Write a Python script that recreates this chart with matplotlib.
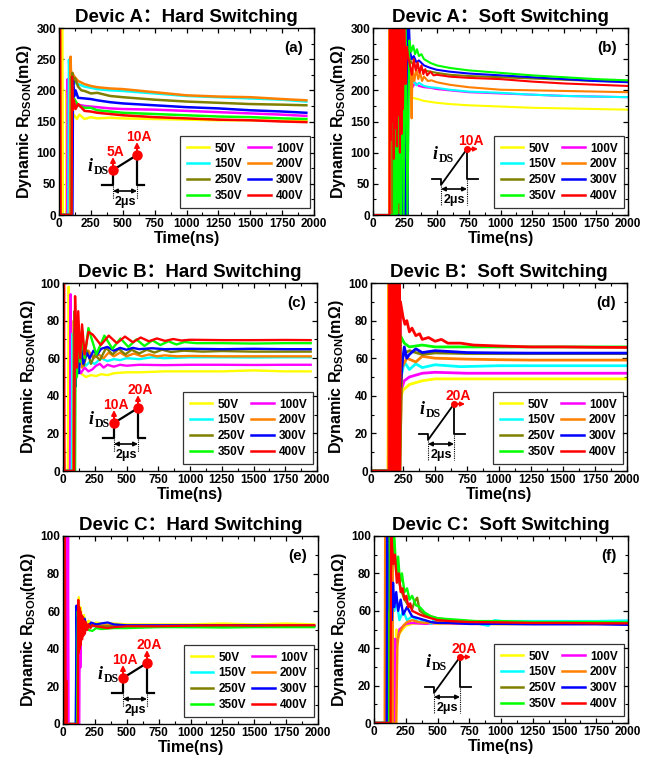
import matplotlib
matplotlib.use("Agg")
import matplotlib.pyplot as plt
from matplotlib.ticker import MultipleLocator

plt.rcParams['font.family'] = ['Liberation Sans', 'Noto Sans CJK SC', 'DejaVu Sans']
plt.rcParams['font.weight'] = 'bold'
plt.rcParams['axes.labelweight'] = 'bold'
plt.rcParams['mathtext.fontset'] = 'custom'
plt.rcParams['mathtext.rm'] = 'Liberation Sans:bold'
plt.rcParams['mathtext.bf'] = 'Liberation Sans:bold'

# ---------------- data ----------------
VOLTAGES = ['50V', '100V', '150V', '200V', '250V', '300V', '350V', '400V']
COLORS = ['#FFFF00', '#FF00FF', '#00FFFF', '#FF7F00', '#808000', '#0000FF', '#00FF00', '#FF0000']
TITLES = ['Devic A\uff1aHard Switching', 'Devic A\uff1aSoft Switching',
          'Devic B\uff1aHard Switching', 'Devic B\uff1aSoft Switching',
          'Devic C\uff1aHard Switching', 'Devic C\uff1aSoft Switching']
PANEL_LETTERS = ['(a)', '(b)', '(c)', '(d)', '(e)', '(f)']
X_TICKS = [0, 250, 500, 750, 1000, 1250, 1500, 1750, 2000]

# Device A, hard switching  (time ns, R mOhm)
A_HARD = {
    '50V': ([0, 12, 16, 26, 30, 56, 60, 64, 80, 100, 120, 140, 160, 200, 250, 300, 400, 500, 750, 1000, 1250, 1500, 1750, 1940],
            [0, 0, 330, 330, 0, 0, 200, 150, 165, 155, 160, 154, 161, 154, 157, 155, 156, 155, 154, 153, 152, 152, 151, 151]),
    '100V': ([0, 5, 64, 68, 72, 80, 100, 120, 150, 200, 250, 300, 400, 500, 750, 1000, 1250, 1500, 1750, 1940],
             [330, 0, 0, 218, 188, 182, 178, 180, 177, 175, 174, 173, 171, 170, 169, 167, 165, 163, 161, 159]),
    '150V': ([0, 5, 74, 78, 84, 100, 120, 150, 200, 250, 300, 400, 500, 750, 1000, 1250, 1500, 1750, 1940],
             [330, 0, 0, 249, 212, 220, 212, 210, 206, 204, 202, 200, 199, 195, 191, 189, 187, 185, 182]),
    '200V': ([0, 8, 12, 86, 91, 96, 105, 120, 150, 200, 250, 300, 400, 500, 750, 1000, 1250, 1500, 1750, 1940],
             [330, 330, 0, 0, 254, 212, 228, 222, 215, 210, 207, 205, 203, 202, 197, 192, 190, 189, 186, 184]),
    '250V': ([0, 6, 100, 105, 112, 125, 150, 175, 200, 250, 300, 400, 500, 750, 1000, 1250, 1500, 1750, 1940],
             [330, 0, 0, 228, 210, 220, 206, 200, 199, 195, 196, 191, 189, 185, 182, 180, 178, 177, 176]),
    '300V': ([0, 4, 105, 110, 118, 130, 150, 200, 250, 300, 400, 500, 750, 1000, 1250, 1500, 1750, 1940],
             [330, 0, 0, 215, 190, 200, 188, 187, 186, 184, 181, 179, 176, 173, 171, 168, 166, 164]),
    '350V': ([0, 5, 96, 100, 106, 120, 150, 200, 250, 300, 400, 500, 750, 1000, 1250, 1500, 1750, 1940],
             [330, 0, 0, 222, 178, 186, 176, 172, 172, 168, 166, 164, 162, 160, 158, 157, 155, 154]),
    '400V': ([0, 8, 12, 98, 102, 108, 115, 130, 150, 200, 250, 300, 400, 500, 750, 1000, 1250, 1500, 1750, 1940],
             [330, 330, 0, 0, 222, 168, 185, 170, 178, 167, 166, 164, 162, 160, 157, 155, 153, 152, 150, 149]),
}

# Device A, soft switching
A_SOFT = {
    '50V': ([0, 128, 131, 136, 140, 172, 175, 179, 183, 187, 250, 262, 275, 290, 310, 350, 400, 500, 600, 750, 1000, 1250, 1500, 1750, 2000],
            [0, 0, 330, 330, 0, 0, 330, 0, 330, 0, 0, 200, 192, 195, 188, 186, 183, 180, 178, 176, 174, 172, 171, 170, 169]),
    '100V': ([0, 140, 143, 150, 155, 180, 184, 190, 195, 200, 205, 212, 240, 270, 290, 310, 330, 360, 400, 450, 500, 600, 750, 1000, 1250, 1500, 1750, 2000],
             [0, 0, 330, 0, 200, 0, 330, 0, 150, 0, 330, 0, 0, 330, 215, 205, 212, 207, 205, 204, 202, 200, 197, 195, 193, 191, 190, 189]),
    '150V': ([0, 135, 138, 145, 150, 160, 165, 200, 205, 215, 220, 260, 268, 285, 300, 320, 340, 360, 400, 450, 500, 600, 750, 1000, 1250, 1500, 1750, 2000],
             [0, 0, 330, 0, 330, 0, 330, 330, 0, 330, 0, 0, 330, 220, 210, 215, 208, 212, 207, 205, 204, 201, 198, 196, 193, 191, 190, 189]),
    '200V': ([0, 126, 129, 134, 140, 146, 152, 158, 165, 172, 180, 190, 200, 210, 220, 230, 240, 250, 260, 270, 280, 290, 297, 303, 310, 325, 340, 355, 370, 385, 400, 430, 460, 500, 600, 750, 1000, 1250, 1500, 1750, 2000],
             [0, 0, 330, 0, 330, 0, 330, 100, 330, 0, 330, 0, 330, 0, 330, 60, 330, 90, 330, 240, 215, 250, 200, 155, 235, 215, 235, 218, 228, 215, 222, 215, 216, 213, 209, 205, 201, 200, 199, 198, 197]),
    '250V': ([0, 150, 153, 160, 167, 175, 182, 190, 197, 205, 240, 260, 280, 300, 330, 360, 400, 450, 500, 600, 750, 1000, 1250, 1500, 1750, 2000],
             [0, 0, 330, 0, 330, 0, 330, 0, 330, 0, 0, 330, 255, 245, 238, 235, 232, 230, 228, 225, 223, 221, 219, 217, 215, 214]),
    '300V': ([0, 236, 239, 244, 248, 253, 258, 263, 268, 273, 278, 290, 305, 320, 340, 360, 400, 450, 500, 600, 750, 1000, 1250, 1500, 1750, 2000],
             [0, 0, 330, 0, 330, 0, 330, 0, 330, 0, 330, 262, 250, 255, 245, 248, 240, 236, 233, 230, 227, 224, 221, 218, 215, 213]),
    '350V': ([0, 165, 168, 175, 180, 188, 195, 203, 210, 218, 225, 240, 255, 270, 285, 300, 315, 330, 345, 360, 380, 400, 450, 500, 600, 750, 1000, 1250, 1500, 1750, 2000],
             [0, 0, 330, 0, 330, 0, 330, 20, 330, 0, 330, 0, 330, 0, 280, 262, 272, 258, 266, 255, 258, 250, 244, 240, 236, 232, 228, 224, 221, 218, 216]),
    '400V': ([0, 130, 133, 139, 145, 151, 157, 163, 169, 175, 181, 187, 193, 199, 205, 211, 217, 223, 229, 235, 245, 255, 265, 275, 290, 305, 320, 335, 350, 365, 380, 395, 410, 425, 450, 475, 500, 600, 750, 1000, 1250, 1500, 1750, 2000],
             [0, 0, 330, 120, 330, 150, 330, 90, 330, 140, 330, 110, 330, 160, 330, 100, 330, 130, 330, 170, 330, 210, 270, 255, 240, 225, 250, 232, 245, 228, 240, 226, 234, 224, 230, 224, 225, 222, 220, 218, 214, 211, 209, 207]),
}

# Device B, hard switching
B_HARD = {
    '50V': ([0, 38, 45, 52, 62, 75, 90, 110, 140, 180, 220, 260, 300, 350, 400, 500, 600, 800, 1000, 1250, 1500, 1750, 1950],
            [0, 0, 98, 60, 37, 55, 50, 54, 52, 50, 51, 50.5, 51.5, 51, 52, 52.5, 52.5, 53, 53, 53, 53.5, 53, 53]),
    '100V': ([0, 55, 60, 66, 75, 90, 110, 140, 170, 200, 230, 260, 290, 320, 350, 400, 450, 500, 600, 800, 1000, 1250, 1500, 1750, 1950],
             [0, 0, 94, 0, 40, 60, 56, 52, 55, 53, 54, 56, 57, 55, 56.5, 55.5, 56.5, 56, 56.5, 56.3, 56.5, 56.5, 56.4, 56.5, 56.5]),
    '150V': ([0, 70, 74, 78, 85, 95, 110, 130, 150, 180, 210, 250, 300, 350, 400, 450, 500, 600, 700, 800, 1000, 1250, 1500, 1750, 1950],
             [0, 0, 73, 40, 62, 55, 60, 57, 58, 56, 58, 57, 60, 58.5, 59.5, 59, 60, 59.5, 60.5, 60, 60.5, 60.5, 60.4, 60.5, 60.5]),
    '200V': ([0, 3, 8, 80, 85, 92, 100, 115, 130, 150, 170, 200, 240, 280, 320, 360, 400, 450, 500, 560, 620, 680, 740, 800, 900, 1000, 1250, 1500, 1750, 1950],
             [0, 45, 0, 0, 80, 45, 70, 58, 66, 55, 63, 64, 60, 62, 60, 63, 61, 63, 61, 62.5, 61, 62, 61, 61.5, 61, 61.2, 61, 61, 61, 61]),
    '250V': ([0, 85, 90, 96, 105, 120, 140, 165, 190, 220, 250, 290, 340, 390, 440, 490, 540, 600, 660, 720, 780, 850, 950, 1100, 1250, 1500, 1750, 1950],
             [0, 0, 85, 50, 72, 58, 68, 56, 64, 57, 62, 59, 65.5, 62, 65, 62, 64.5, 62.5, 64.5, 63, 64.5, 63.3, 64, 63.5, 63.8, 63.5, 63.5, 63.5]),
    '300V': ([0, 90, 95, 100, 110, 125, 140, 160, 185, 210, 240, 270, 300, 350, 400, 450, 500, 550, 600, 700, 800, 1000, 1250, 1500, 1750, 1950],
             [0, 0, 75, 45, 70, 52, 66, 57, 63, 60, 64, 62, 65, 66, 64, 65.5, 64.5, 65.5, 64.8, 65.3, 64.8, 65, 64.8, 65, 64.8, 64.8]),
    '350V': ([0, 3, 8, 95, 100, 110, 120, 135, 150, 170, 200, 263, 326, 389, 452, 515, 578, 641, 704, 767, 830, 893, 956, 1050, 1250, 1500, 1750, 1950],
             [0, 42, 0, 0, 80, 50, 78, 58, 75, 60, 76, 62, 72, 65, 70.5, 66, 70, 66.5, 69.5, 67, 69, 67.3, 68.6, 68, 68, 67.8, 68, 68]),
    '400V': ([0, 3, 8, 12, 88, 95, 110, 120, 135, 150, 170, 200, 235, 298, 360, 424, 488, 550, 612, 676, 740, 804, 868, 932, 1000, 1250, 1500, 1750, 1950],
             [105, 0, 105, 0, 0, 93, 55, 85, 60, 78, 62, 74, 72.5, 67, 72, 68, 71.5, 68.5, 71, 69, 70.5, 69.2, 70.2, 69.4, 69.8, 69.6, 69.6, 69.7, 69.6]),
}

# Device B, soft switching
B_SOFT = {
    '50V': ([0, 133, 136, 140, 143, 218, 225, 250, 300, 350, 400, 500, 700, 1000, 1250, 1500, 1750, 2000],
            [0, 0, 105, 105, 0, 0, 38, 43, 46, 47, 48, 49, 49, 49, 49, 49, 49, 49]),
    '100V': ([0, 160, 164, 170, 175, 180, 185, 220, 230, 260, 300, 350, 400, 500, 750, 1000, 1250, 1500, 1750, 2000],
             [0, 0, 105, 0, 105, 0, 105, 0, 42, 48, 50, 51, 52, 52.5, 52, 52, 52, 52, 52, 52]),
    '150V': ([0, 170, 174, 180, 185, 222, 235, 260, 300, 350, 400, 500, 700, 1000, 1250, 1500, 1750, 2000],
             [0, 0, 105, 0, 105, 0, 50, 58, 54, 57, 55, 56.5, 55.5, 56, 56, 56, 56, 56]),
    '200V': ([0, 135, 138, 175, 180, 190, 195, 225, 240, 280, 350, 400, 500, 750, 1000, 1250, 1500, 1750, 2000],
             [0, 0, 105, 0, 105, 0, 105, 0, 55, 60, 58, 61, 60, 59.5, 59.2, 59, 59, 59, 59]),
    '250V': ([0, 180, 184, 190, 195, 226, 240, 270, 300, 400, 500, 750, 1000, 1250, 1500, 1750, 2000],
             [0, 0, 105, 0, 105, 0, 60, 63, 64, 62, 62.8, 62.5, 62.5, 62.5, 62.5, 62.5, 62.5]),
    '300V': ([0, 150, 154, 160, 165, 170, 180, 190, 200, 210, 222, 230, 245, 260, 280, 300, 350, 400, 500, 750, 1000, 1250, 1500, 1750, 2000],
             [0, 0, 105, 0, 105, 0, 105, 0, 105, 0, 105, 45, 58, 66, 60, 62, 65, 63, 64, 63, 62.8, 62.7, 62.7, 62.7, 62.7]),
    '350V': ([0, 165, 170, 175, 185, 195, 205, 215, 230, 260, 300, 400, 500, 750, 1000, 1250, 1500, 1750, 2000],
             [0, 0, 105, 0, 105, 0, 105, 0, 72, 68, 66, 67, 66, 66, 66, 66, 66, 66, 66]),
    '400V': ([0, 145, 148, 152, 156, 160, 164, 168, 172, 176, 180, 184, 188, 192, 196, 200, 204, 208, 212, 216, 220, 224, 230, 250, 265, 280, 300, 320, 350, 380, 400, 450, 500, 550, 600, 700, 800, 1000, 1250, 1500, 1750, 2000],
             [0, 0, 105, 0, 105, 0, 105, 0, 105, 0, 105, 0, 105, 0, 105, 0, 105, 0, 105, 0, 105, 0, 90, 82, 78, 80, 74, 76, 72, 73, 70, 71, 69, 70, 68, 68, 67, 66.5, 66, 66, 65.8, 65.7]),
}

# Device C, hard switching
C_HARD = {
    '50V': ([0, 2, 8, 14, 20, 118, 124, 130, 140, 150, 165, 180, 200, 230, 260, 300, 400, 500, 750, 1000, 1250, 1500, 1750, 1970],
            [0, 105, 0, 105, 0, 0, 67.5, 55, 62, 52, 58, 52, 55, 53, 54, 53.5, 53.5, 53, 53, 53, 53.5, 53, 53.5, 53]),
    '100V': ([0, 24, 28, 34, 40, 44, 128, 132, 136, 142, 150, 170, 200, 250, 300, 400, 500, 750, 1000, 1250, 1500, 1750, 1970],
             [0, 0, 105, 0, 105, 0, 0, 60, 30, 55, 50, 54, 52, 52.5, 52, 52.5, 52, 52, 52, 52.5, 52, 52, 52]),
    '150V': ([0, 100, 108, 115, 125, 140, 160, 180, 200, 250, 300, 400, 500, 750, 1000, 1250, 1500, 1750, 1970],
             [0, 0, 60, 45, 58, 48, 55, 50, 52, 52, 52, 51.5, 52, 51.8, 51.5, 52, 51.8, 52, 52]),
    '200V': ([0, 102, 110, 118, 128, 142, 160, 180, 200, 250, 300, 400, 500, 750, 1000, 1250, 1500, 1750, 1970],
             [0, 0, 58, 48, 56, 50, 54, 51, 53, 52.5, 52.5, 52.5, 52.5, 52.5, 52.5, 52.5, 52.5, 52.5, 52.5]),
    '250V': ([0, 104, 112, 120, 130, 144, 160, 180, 200, 250, 300, 400, 500, 750, 1000, 1250, 1500, 1750, 1970],
             [0, 0, 59, 46, 57, 49, 55, 50, 53, 52.5, 52, 52, 52.3, 52, 52, 52.3, 52, 52, 52]),
    '300V': ([0, 100, 106, 112, 120, 130, 140, 155, 170, 190, 220, 260, 300, 350, 400, 500, 750, 1000, 1250, 1500, 1750, 1970],
             [0, 0, 63, 40, 60, 45, 58, 48, 56, 51, 54, 53, 53.5, 54, 53, 52.5, 52.5, 52.5, 52.5, 52.5, 52.3, 52.3]),
    '350V': ([0, 110, 116, 125, 135, 150, 170, 200, 230, 260, 300, 400, 500, 750, 1000, 1250, 1500, 1750, 1970],
             [0, 0, 60, 45, 57, 47, 54, 50, 49.5, 51, 50.5, 51, 51, 51.5, 51.5, 51.3, 51.5, 51.5, 51.5]),
    '400V': ([0, 3, 8, 14, 22, 26, 30, 116, 120, 124, 128, 132, 136, 140, 145, 150, 155, 160, 166, 172, 180, 190, 200, 215, 230, 250, 300, 350, 400, 500, 600, 750, 1000, 1250, 1500, 1750, 1970],
             [0, 105, 0, 105, 0, 23, 0, 0, 66, 38, 62, 40, 60, 42, 58, 45, 57, 47, 55, 48, 54, 50, 53, 51, 52.5, 52, 51.5, 51, 51.5, 52, 52, 52, 52.3, 52.5, 52.3, 52.5, 52.5]),
}

# Device C, soft switching
C_SOFT = {
    '50V': ([0, 174, 177, 185, 200, 250, 300, 400, 500, 750, 1000, 1250, 1500, 1750, 2000],
            [0, 0, 50, 42, 48, 52, 53, 53.5, 53, 53, 52.8, 53, 53, 53, 53]),
    '100V': ([0, 162, 165, 175, 200, 250, 300, 400, 500, 750, 1000, 1250, 1500, 1750, 2000],
             [0, 0, 45, 40, 50, 53, 53.5, 53, 53.5, 53, 53, 53, 53, 53, 53]),
    '150V': ([0, 140, 145, 160, 180, 200, 230, 260, 300, 350, 400, 450, 480, 500, 600, 750, 900, 950, 1000, 1250, 1500, 1750, 2000],
             [0, 0, 70, 60, 65, 55, 60, 55, 57, 54, 55, 53, 56, 54, 54.5, 54, 52, 55, 54.5, 54.5, 54.5, 54.5, 54.8]),
    '200V': ([0, 84, 88, 92, 96, 100, 104, 108, 112, 116, 120, 124, 128, 132, 136, 140, 144, 148, 152, 175, 185, 200, 230, 260, 300, 350, 400, 500, 600, 750, 1000, 1250, 1500, 1750, 2000],
             [0, 0, 105, 0, 105, 0, 105, 0, 105, 0, 105, 0, 105, 0, 105, 0, 105, 0, 0, 0, 45, 48, 52, 54, 55, 54, 53.5, 54, 53.5, 53.5, 53.5, 53.5, 53.5, 53.5, 53.5]),
    '250V': ([0, 110, 115, 130, 150, 170, 190, 210, 240, 270, 300, 320, 340, 360, 400, 450, 500, 600, 750, 1000, 1250, 1500, 1750, 2000],
             [0, 0, 105, 80, 95, 85, 78, 72, 66, 63, 61, 65, 67, 60, 58, 57, 56, 55, 54, 54, 53.5, 53.5, 53.5, 53.5]),
    '300V': ([0, 100, 103, 110, 118, 125, 132, 140, 150, 160, 175, 190, 210, 230, 260, 300, 350, 400, 450, 500, 600, 750, 1000, 1250, 1500, 1750, 2000],
             [0, 0, 105, 62, 90, 60, 80, 55, 75, 62, 70, 60, 66, 58, 62, 57, 56, 55, 54, 53.5, 53.5, 53, 53, 52.8, 52.8, 52.8, 52.5]),
    '350V': ([0, 120, 125, 140, 160, 175, 190, 205, 220, 240, 260, 280, 300, 330, 360, 400, 450, 500, 600, 700, 800, 1000, 1250, 1500, 1750, 2000],
             [0, 0, 105, 90, 100, 80, 89, 75, 80, 70, 72, 66, 68, 63, 62, 59, 57, 56, 55.5, 55, 54.5, 54.5, 54, 54, 54, 53.8]),
    '400V': ([0, 130, 134, 150, 165, 180, 195, 210, 225, 240, 255, 270, 285, 300, 330, 360, 400, 450, 500, 600, 750, 1000, 1250, 1500, 1750, 2000],
             [0, 0, 105, 85, 90, 75, 80, 70, 72, 66, 68, 62, 64, 60, 59, 58, 57, 56, 55, 54.5, 54, 53.8, 53.5, 53.5, 53.3, 53.3]),
}

PANELS = [A_HARD, A_SOFT, B_HARD, B_SOFT, C_HARD, C_SOFT]
Y_MAX = [300, 300, 100, 100, 100, 100]
Y_STEP = [50, 50, 20, 20, 20, 20]
INSET_LABELS = [('5A', '10A'), ('10A',), ('10A', '20A'), ('20A',), ('10A', '20A'), ('20A',)]

# ---------------- layout ----------------
W, H = 651, 762
fig = plt.figure(figsize=(W / 100, H / 100), dpi=100)

# axes boxes in pixels: left, top, right, bottom
BOXES = [(59, 28, 314, 215), (373, 28, 628, 215),
         (63, 283, 317, 471), (371, 283, 627, 471),
         (63, 536, 318, 724), (374, 536, 628, 723)]
# inset anchor (foot) in pixels
FEET = [(113, 185), (441, 185), (114, 438), (428, 440), (123, 693), (434, 693)]
LW = [1.8, 1.5, 1.7, 2.0, 1.6, 1.7]


def fx(px):
    return px / W


def fy(py):
    return 1 - py / H


def draw_line(pts, **kw):
    xs = [fx(p[0]) for p in pts]
    ys = [fy(p[1]) for p in pts]
    fig.lines.append(plt.Line2D(xs, ys, transform=fig.transFigure, **kw))


def arrow(p0, p1, style, color, lw=1.2, ms=6):
    fig.patches.append(matplotlib.patches.FancyArrowPatch(
        (fx(p0[0]), fy(p0[1])), (fx(p1[0]), fy(p1[1])), transform=fig.transFigure,
        arrowstyle=style, color=color, lw=lw, mutation_scale=ms, shrinkA=0, shrinkB=0))


def ids_text(x, y):
    fig.text(fx(x), fy(y), 'i', family='Liberation Serif', style='italic', weight='bold',
             fontsize=13, ha='right', va='baseline')
    fig.text(fx(x + 0.5), fy(y + 3), 'DS', family='Liberation Serif', weight='bold',
             fontsize=8.5, ha='left', va='baseline')


def hard_inset(foot, labels):
    x0, y0 = foot
    draw_line([(x0 - 11, y0), (x0, y0), (x0, y0 - 15), (x0 + 24, y0 - 30), (x0 + 24, y0), (x0 + 31, y0)],
              color='black', lw=1.6)
    for dx, dy, lab in [(0, -15, labels[0]), (24, -30, labels[1])]:
        arrow((x0 + dx, y0 + dy - 2), (x0 + dx, y0 + dy - 13), '-|>', 'red', lw=1.4, ms=7)
        draw_line([(x0 + dx, y0 + dy)], color='red', marker='o', ms=6.5, ls='none')
        fig.text(fx(x0 + dx + 2), fy(y0 + dy - 11), lab, color='red', fontsize=10,
                 ha='center', va='bottom', weight='bold')
    draw_line([(x0, y0 + 1), (x0, y0 + 14)], color='black', lw=0.8, ls=(0, (1, 1)))
    draw_line([(x0 + 24, y0 + 1), (x0 + 24, y0 + 14)], color='black', lw=0.8, ls=(0, (1, 1)))
    arrow((x0, y0 + 6), (x0 + 24, y0 + 6), '<|-|>', 'black', lw=1.2, ms=6)
    fig.text(fx(x0 + 12), fy(y0 + 17), '2\u03bcs', fontsize=9, ha='center', va='center', weight='bold')
    ids_text(x0 - 20, y0 - 14)


def soft_inset(foot, labels):
    x0, y0 = foot
    draw_line([(x0 - 9, y0 - 6), (x0, y0 - 6), (x0, y0), (x0 + 26, y0 - 36), (x0 + 26, y0 - 6), (x0 + 37, y0 - 6)],
              color='black', lw=1.3)
    arrow((x0 + 26, y0 - 36), (x0 + 37, y0 - 36), '-|>', 'red', lw=1.3, ms=6)
    draw_line([(x0 + 26, y0 - 36)], color='red', marker='o', ms=4, ls='none')
    fig.text(fx(x0 + 30), fy(y0 - 37), labels[0], color='red', fontsize=10,
             ha='center', va='bottom', weight='bold')
    draw_line([(x0, y0 + 1), (x0, y0 + 20)], color='black', lw=0.8, ls=(0, (1, 1)))
    draw_line([(x0 + 26, y0 - 5), (x0 + 26, y0 + 20)], color='black', lw=0.8, ls=(0, (1, 1)))
    arrow((x0, y0 + 4), (x0 + 26, y0 + 4), '<|-|>', 'black', lw=1.2, ms=6)
    fig.text(fx(x0 + 13), fy(y0 + 15), '2\u03bcs', fontsize=9, ha='center', va='center', weight='bold')
    ids_text(x0 - 3, y0 - 26)


for i, data in enumerate(PANELS):
    l, t, r, b = BOXES[i]
    ax = fig.add_axes([fx(l), fy(b), (r - l) / W, (b - t) / H])
    handles = []
    for v, c in zip(VOLTAGES, COLORS):
        ts, vals = data[v]
        h, = ax.plot(ts, vals, color=c, lw=LW[i], label=v)
        handles.append(h)
    ax.set_xlim(0, 2000)
    ax.set_ylim(0, Y_MAX[i])
    ax.set_xticks(X_TICKS)
    ax.xaxis.set_minor_locator(MultipleLocator(125))
    ax.yaxis.set_major_locator(MultipleLocator(Y_STEP[i]))
    ax.yaxis.set_minor_locator(MultipleLocator(Y_STEP[i] / 2))
    ax.tick_params(which='both', direction='in', top=True, right=True, labelsize=8.5, pad=2)
    ax.tick_params(which='major', length=3.5, width=0.9)
    ax.tick_params(which='minor', length=2, width=0.8)
    for lab in ax.get_xticklabels() + ax.get_yticklabels():
        lab.set_fontweight('bold')
    for s in ax.spines.values():
        s.set_linewidth(1.0)
    ax.set_xlabel('Time(ns)', fontsize=11.5, labelpad=1)
    ax.set_ylabel('Dynamic R$_{\\mathbf{DSON}}$(m\u03a9)', fontsize=11.5, labelpad=2)
    ax.set_title(TITLES[i], fontsize=13.5, weight='bold', pad=4)
    ax.text(0.955, 0.895, PANEL_LETTERS[i], transform=ax.transAxes, ha='right', va='center',
            fontsize=11, weight='bold')
    order = [0, 2, 4, 6, 1, 3, 5, 7]
    leg = ax.legend([handles[k] for k in order], [VOLTAGES[k] for k in order], ncol=2,
                    loc='lower right', bbox_to_anchor=(0.985, 0.035), borderaxespad=0,
                    prop={'weight': 'bold', 'size': 8.5}, frameon=True, fancybox=False,
                    edgecolor='black', handlelength=1.9, columnspacing=0.5, labelspacing=0.32,
                    handletextpad=0.45, borderpad=0.55)
    leg.get_frame().set_linewidth(0.9)
    for lh in leg.get_lines():
        lh.set_linewidth(1.8)
    if i % 2 == 0:
        hard_inset(FEET[i], INSET_LABELS[i])
    else:
        soft_inset(FEET[i], INSET_LABELS[i])

fig.savefig('out.png', dpi=100)
